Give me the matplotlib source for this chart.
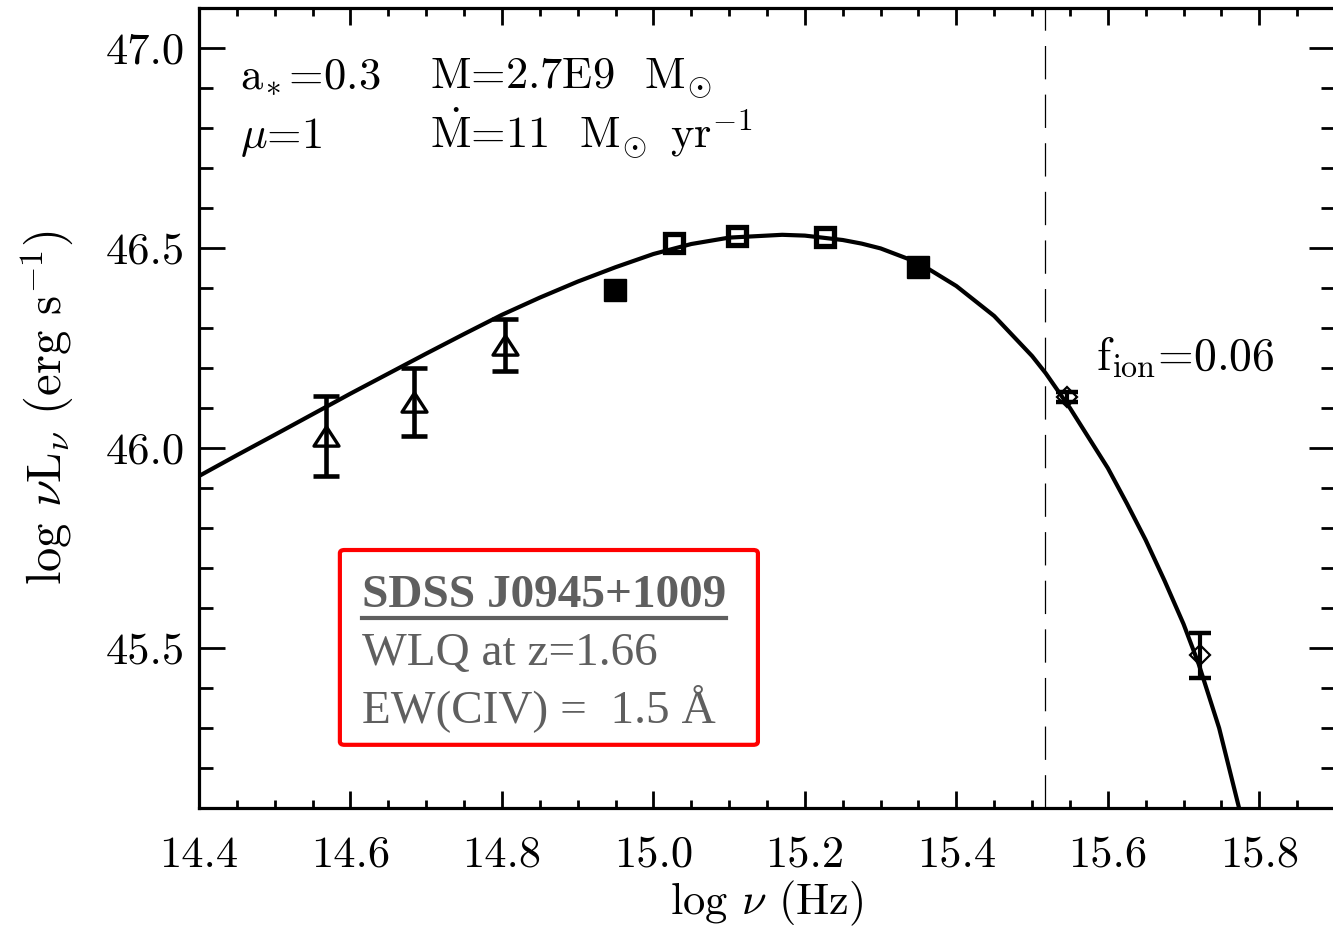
import matplotlib
matplotlib.use("Agg")
import matplotlib.pyplot as plt
from matplotlib.lines import Line2D
from matplotlib.patches import FancyBboxPatch

plt.rcParams["font.family"] = "serif"
plt.rcParams["font.serif"] = ["cmr10", "DejaVu Serif"]
plt.rcParams["mathtext.fontset"] = "cm"
plt.rcParams["axes.unicode_minus"] = False
plt.rcParams["lines.scale_dashes"] = False

# disc model curve (log nu, log nuLnu)
model_x = [14.400, 14.450, 14.500, 14.568, 14.600, 14.650, 14.700, 14.750,
           14.800, 14.850, 14.900, 14.950, 15.000, 15.050, 15.100, 15.170,
           15.200, 15.250, 15.275, 15.300, 15.350, 15.400, 15.450, 15.500,
           15.518, 15.550, 15.600, 15.625, 15.650, 15.675, 15.700, 15.720,
           15.747, 15.774]
model_y = [45.930, 45.982, 46.033, 46.103, 46.136, 46.186, 46.236, 46.285,
           46.333, 46.376, 46.416, 46.452, 46.485, 46.510, 46.526, 46.533,
           46.531, 46.520, 46.511, 46.499, 46.463, 46.405, 46.330, 46.230,
           46.187, 46.100, 45.950, 45.862, 45.770, 45.668, 45.560, 45.460,
           45.300, 45.095]

# photometry
tri_x = [14.568, 14.684, 14.804]
tri_y = [46.030, 46.115, 46.258]
tri_err = [0.100, 0.085, 0.065]

sq_fill_x = [14.949, 15.350]
sq_fill_y = [46.395, 46.453]

sq_open_x = [15.027, 15.111, 15.227]
sq_open_y = [46.512, 46.530, 46.527]

dia_x = [15.546, 15.722]
dia_y = [46.128, 45.482]
dia_err = [0.012, 0.056]

nu_ion = 15.517

xticks = [14.4, 14.6, 14.8, 15.0, 15.2, 15.4, 15.6, 15.8]
xticklabels = ["14.4", "14.6", "14.8", "15.0", "15.2", "15.4", "15.6", "15.8"]
yticks = [45.5, 46.0, 46.5, 47.0]
yticklabels = ["45.5", "46.0", "46.5", "47.0"]

fig = plt.figure(figsize=(13.33, 9.31), dpi=100)
ax = fig.add_axes([0.1493, 0.1321, 0.8522, 0.8593])

ax.plot(model_x, model_y, color="black", lw=3, solid_joinstyle="round",
        solid_capstyle="butt", zorder=3)
ax.axvline(nu_ion, color="black", lw=0.9, ls=(0, (24, 11)), zorder=2)

tri_marker = [(0, 0.77), (-1, -0.77), (1, -0.77), (0, 0.77)]
ax.errorbar(tri_x, tri_y, yerr=tri_err, fmt="none", ecolor="black",
            elinewidth=3.3, capsize=9.5, capthick=3.3, zorder=4)
ax.plot(tri_x, tri_y, ls="none", marker=tri_marker, ms=18, mfc="none",
        mec="black", mew=2.4, zorder=5)

ax.plot(sq_fill_x, sq_fill_y, ls="none", marker="s", ms=16.5, mfc="black",
        mec="black", mew=1, zorder=5)
ax.plot(sq_open_x, sq_open_y, ls="none", marker="s", ms=13.5, mfc="none",
        mec="black", mew=3.8, zorder=5)

ax.errorbar(dia_x, dia_y, yerr=dia_err, fmt="none", ecolor="black",
            elinewidth=3, capsize=8, capthick=3.2, zorder=4)
ax.plot(dia_x, dia_y, ls="none", marker="D", ms=10.5, mfc="none",
        mec="black", mew=1.6, zorder=5)

ax.set_xlim(14.4, 15.9)
ax.set_ylim(45.1, 47.1)
ax.set_xticks(xticks)
ax.set_xticklabels(xticklabels)
ax.set_yticks(yticks)
ax.set_yticklabels(yticklabels)
ax.set_xticks([14.4 + 0.05 * i for i in range(31)], minor=True)
ax.set_yticks([45.1 + 0.1 * i for i in range(21)], minor=True)

for s in ax.spines.values():
    s.set_linewidth(2.3)
ax.tick_params(axis="both", which="both", direction="in", top=True, right=True,
               width=2, labelsize=32)
ax.tick_params(axis="x", which="major", length=12, pad=20)
ax.tick_params(axis="x", which="minor", length=6)
ax.tick_params(axis="y", which="major", length=19, pad=10)
ax.tick_params(axis="y", which="minor", length=10)

ax.set_xlabel(r"log $\nu$ (Hz)", fontsize=32, labelpad=2)
ax.set_ylabel(r"log $\nu$L$_\nu$ (erg s$^{-1}$)", fontsize=35, labelpad=22)

# model parameters
fs = 32
ax.text(0.036, 0.900, r"$\mathrm{a}_{\!*}$=0.3", transform=ax.transAxes,
        fontsize=fs)
ax.text(0.203, 0.900, r"M=2.7E9  $\mathrm{M}_{\!\odot}$", transform=ax.transAxes,
        fontsize=fs)
ax.text(0.036, 0.825, r"$\mu$=1", transform=ax.transAxes, fontsize=fs)
ax.text(0.203, 0.825, r"$\dot{\mathrm{M}}$=11  $\mathrm{M}_{\!\odot}$ yr$^{-1}$",
        transform=ax.transAxes, fontsize=fs)
ax.text(0.790, 0.5475, r"$\mathrm{f}_{\mathrm{ion}}$=0.06", transform=ax.transAxes,
        fontsize=33)

# object label box
box = FancyBboxPatch((0.124, 0.079), 0.368, 0.2435, transform=ax.transAxes,
                     boxstyle="round,pad=0,rounding_size=0.004",
                     facecolor="white", edgecolor="#ff0000", lw=3, zorder=6)
ax.add_patch(box)
grey = "#5f5f5f"
t1 = ax.text(0.1435, 0.251, "SDSS J0945+1009", transform=ax.transAxes,
             fontsize=34, fontweight="bold", color=grey,
             family="Liberation Serif", zorder=7)
ax.text(0.1435, 0.179, "WLQ at z=1.66", transform=ax.transAxes, fontsize=34,
        color=grey, family="Liberation Serif", zorder=7)
ax.text(0.1435, 0.1075, "EW(CIV) =  1.5 Å", transform=ax.transAxes, fontsize=34,
        color=grey, family="Liberation Serif", zorder=7)

fig.canvas.draw()
bb = t1.get_window_extent()
W, H = fig.bbox.width, fig.bbox.height
uy = (bb.y0 - 1) / H
fig.add_artist(Line2D([bb.x0 / W, bb.x1 / W], [uy, uy], color=grey, lw=3,
                      transform=fig.transFigure, zorder=8))

fig.savefig("out.png", dpi=100)
